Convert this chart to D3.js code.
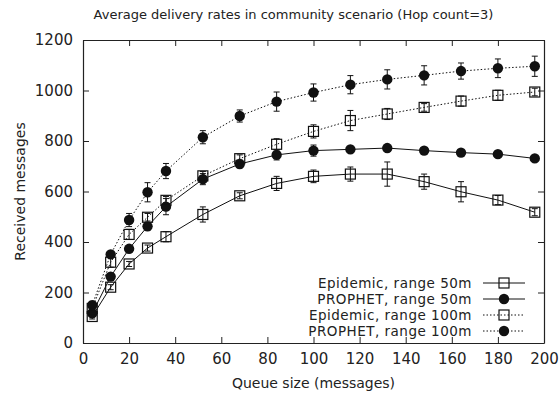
<!DOCTYPE html>
<html>
<head>
<meta charset="utf-8">
<script src="https://cdn.jsdelivr.net/npm/d3@7"></script>
<style>
  body { margin: 0; background: #fff; }
  svg text { font-family: 'DejaVu Sans', sans-serif; fill: #222; }
</style>
</head>
<body>
<div id="chart"></div>
<script>
const queueSizes = [4, 12, 20, 28, 36, 52, 68, 84, 100, 116, 132, 148, 164, 180, 196];

const epidemic50 = [105, 221, 313, 376, 421, 509, 583, 632, 660, 669, 669, 639, 599, 566, 518];
const epidemic50Err = [10, 10, 10, 12, 20, 30, 12, 28, 25, 28, 48, 30, 40, 18, 14];

const prophet50 = [118, 263, 373, 462, 540, 649, 709, 745, 762, 767, 772, 762, 754, 748, 731];
const prophet50Err = [10, 10, 10, 15, 32, 22, 15, 20, 22, 8, 6, 6, 6, 6, 6];

const epidemic100 = [137, 320, 430, 498, 565, 662, 730, 787, 838, 881, 907, 933, 958, 981, 994];
const epidemic100Err = [10, 20, 20, 15, 15, 17, 15, 22, 26, 40, 22, 15, 20, 20, 15];

const prophet100 = [150, 351, 487, 597, 681, 815, 899, 956, 992, 1023, 1044, 1060, 1077, 1088, 1096];
const prophet100Err = [15, 10, 26, 38, 30, 26, 24, 38, 34, 36, 38, 38, 32, 37, 40];

const seriesNames = ['Epidemic, range 50m', 'PROPHET, range 50m', 'Epidemic, range 100m', 'PROPHET, range 100m'];
const xTicks = [0, 20, 40, 60, 80, 100, 120, 140, 160, 180, 200];
const yTicks = [0, 200, 400, 600, 800, 1000, 1200];

const series = [
  { name: seriesNames[0], values: epidemic50, err: epidemic50Err, marker: 'square', dotted: false },
  { name: seriesNames[1], values: prophet50, err: prophet50Err, marker: 'circle', dotted: false },
  { name: seriesNames[2], values: epidemic100, err: epidemic100Err, marker: 'square', dotted: true },
  { name: seriesNames[3], values: prophet100, err: prophet100Err, marker: 'circle', dotted: true }
];

const margin = { top: 40, right: 16, bottom: 54, left: 83 };
const totalWidth = 560, totalHeight = 397;
const width = totalWidth - margin.left - margin.right;
const height = totalHeight - margin.top - margin.bottom;

const svg = d3.select('#chart')
  .append('svg')
  .attr('width', totalWidth)
  .attr('height', totalHeight)
  .append('g')
  .attr('transform', 'translate(' + margin.left + ',' + margin.top + ')');

const x = d3.scaleLinear().domain([0, 200]).range([0, width]);
const y = d3.scaleLinear().domain([0, 1200]).range([height, 0]);

// title
svg.append('text')
  .attr('x', width / 2 - 20)
  .attr('y', -21)
  .attr('text-anchor', 'middle')
  .style('font-size', '13px')
  .text('Average delivery rates in community scenario (Hop count=3)');

// axes with inward ticks, mirrored
const tickLen = 6;
svg.append('g')
  .attr('transform', 'translate(0,' + height + ')')
  .call(d3.axisBottom(x).tickValues(xTicks).tickFormat(d3.format('d')).tickSizeInner(-tickLen).tickSizeOuter(0).tickPadding(10))
  .call(g => g.selectAll('text').style('font-size', '15px').attr('fill', '#222'));
svg.append('g')
  .call(d3.axisTop(x).tickValues(xTicks).tickSizeInner(-tickLen).tickSizeOuter(0))
  .call(g => g.selectAll('text').remove());
svg.append('g')
  .call(d3.axisLeft(y).tickValues(yTicks).tickFormat(d3.format('d')).tickSizeInner(-tickLen).tickSizeOuter(0).tickPadding(10))
  .call(g => g.selectAll('text').style('font-size', '15px').attr('fill', '#222'));
svg.append('g')
  .attr('transform', 'translate(' + width + ',0)')
  .call(d3.axisRight(y).tickValues(yTicks).tickSizeInner(-tickLen).tickSizeOuter(0))
  .call(g => g.selectAll('text').remove());
svg.selectAll('.domain').attr('stroke', '#222').attr('stroke-width', 1.2);
svg.selectAll('.tick line').attr('stroke', '#222');

// axis labels
svg.append('text')
  .attr('x', width / 2)
  .attr('y', height + 45)
  .attr('text-anchor', 'middle')
  .style('font-size', '14px')
  .text('Queue size (messages)');
svg.append('text')
  .attr('transform', 'rotate(-90)')
  .attr('x', -height / 2)
  .attr('y', -58)
  .attr('text-anchor', 'middle')
  .style('font-size', '14px')
  .text('Received messages');

const line = d3.line()
  .x((d, i) => x(queueSizes[i]))
  .y(d => y(d));

function drawMarker(g, type, cx, cy) {
  if (type === 'square') {
    g.append('rect')
      .attr('x', cx - 5).attr('y', cy - 5)
      .attr('width', 10).attr('height', 10)
      .attr('fill', 'none').attr('stroke', '#111').attr('stroke-width', 1.2);
  } else {
    g.append('circle')
      .attr('cx', cx).attr('cy', cy).attr('r', 5.2)
      .attr('fill', '#111');
  }
}

series.forEach(s => {
  const g = svg.append('g');
  g.append('path')
    .datum(s.values)
    .attr('d', line)
    .attr('fill', 'none')
    .attr('stroke', '#111')
    .attr('stroke-width', 1)
    .attr('stroke-dasharray', s.dotted ? '1.5,2' : null);

  s.values.forEach((v, i) => {
    const cx = x(queueSizes[i]);
    const lo = y(v - s.err[i]), hi = y(v + s.err[i]);
    g.append('line').attr('x1', cx).attr('x2', cx).attr('y1', lo).attr('y2', hi)
      .attr('stroke', '#111').attr('stroke-width', 1);
    g.append('line').attr('x1', cx - 3).attr('x2', cx + 3).attr('y1', lo).attr('y2', lo)
      .attr('stroke', '#111').attr('stroke-width', 1);
    g.append('line').attr('x1', cx - 3).attr('x2', cx + 3).attr('y1', hi).attr('y2', hi)
      .attr('stroke', '#111').attr('stroke-width', 1);
    drawMarker(g, s.marker, cx, y(v));
  });
});

// legend
const legend = svg.append('g')
  .attr('transform', 'translate(' + (472 - margin.left) + ',' + (283 - margin.top) + ')');
series.forEach((s, i) => {
  const row = legend.append('g').attr('transform', 'translate(0,' + (i * 16) + ')');
  row.append('text')
    .attr('x', 0).attr('y', 0).attr('dy', '0.35em')
    .attr('text-anchor', 'end')
    .style('font-size', '13.5px')
    .style('letter-spacing', '0.5px')
    .text(s.name);
  row.append('line')
    .attr('x1', 11).attr('x2', 53).attr('y1', 0).attr('y2', 0)
    .attr('stroke', '#111').attr('stroke-width', 1)
    .attr('stroke-dasharray', s.dotted ? '1.5,2' : null);
  drawMarker(row, s.marker, 32, 0);
});
</script>
</body>
</html>
